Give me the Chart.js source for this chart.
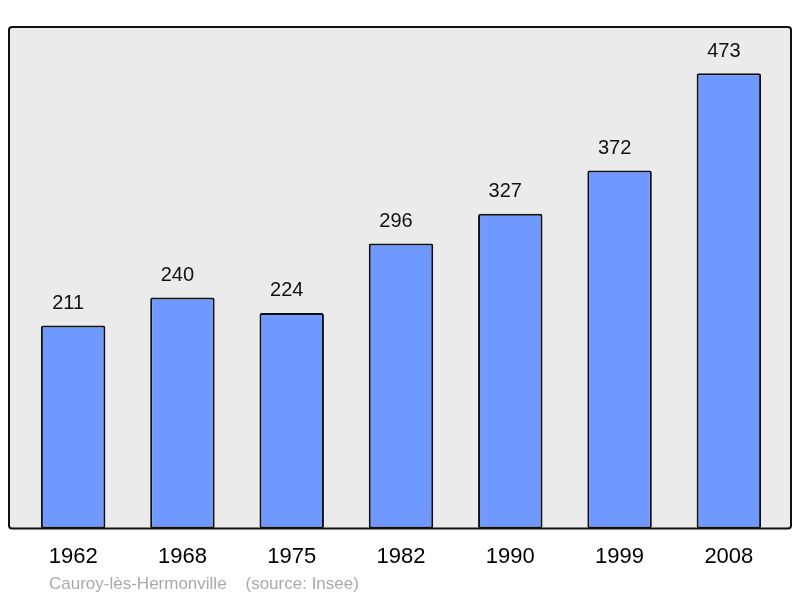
<!DOCTYPE html>
<html>
<head>
<meta charset="utf-8">
<script src="https://cdn.jsdelivr.net/npm/chart.js@4/dist/chart.umd.min.js"></script>
<style>
html,body{margin:0;padding:0;background:#fff;}
#wrap{width:800px;height:598px;position:relative;}
</style>
</head>
<body>
<div id="wrap"><canvas id="c" width="800" height="598"></canvas></div>
<script>
const years = ["1962","1968","1975","1982","1990","1999","2008"];
const population = [211,240,224,296,327,372,473];
const sourceText = "Cauroy-lès-Hermonville    (source: Insee)";

const FONT = "'Liberation Sans', Arial, sans-serif";

const framePlugin = {
  id: 'frame',
  beforeDraw(chart) {
    const {ctx, chartArea} = chart;
    const l = chartArea.left - 9.5, r = chartArea.right + 7.5;
    const t = chartArea.top, b = chartArea.bottom;
    ctx.save();
    ctx.beginPath();
    if (ctx.roundRect) ctx.roundRect(l, t, r - l, b - t, 3); else ctx.rect(l, t, r - l, b - t);
    ctx.fillStyle = '#ebebeb';
    ctx.fill();
    ctx.restore();
  },
  afterDatasetsDraw(chart) {
    const {ctx, chartArea} = chart;
    const l = chartArea.left - 9.5, r = chartArea.right + 7.5;
    const t = chartArea.top, b = chartArea.bottom;
    ctx.save();
    ctx.beginPath();
    if (ctx.roundRect) ctx.roundRect(l, t, r - l, b - t, 3); else ctx.rect(l, t, r - l, b - t);
    ctx.lineWidth = 2;
    ctx.strokeStyle = '#111';
    ctx.stroke();
    // value labels
    const meta = chart.getDatasetMeta(0);
    ctx.fillStyle = '#111';
    ctx.font = '20px ' + FONT;
    ctx.textAlign = 'center';
    ctx.textBaseline = 'middle';
    meta.data.forEach((bar, i) => {
      ctx.fillText(String(chart.data.datasets[0].data[i]), bar.x - 5, bar.y - 22);
    });
    // source
    ctx.fillStyle = '#aaaaaa';
    ctx.font = '17px ' + FONT;
    ctx.textAlign = 'left';
    ctx.fillText(sourceText, 49, 584);
    ctx.restore();
  }
};

new Chart(document.getElementById('c'), {
  type: 'bar',
  data: {
    labels: years,
    datasets: [{
      data: population,
      backgroundColor: '#7099ff',
      borderColor: '#111',
      borderWidth: 2,
      borderRadius: 2,
      borderSkipped: false,
      barPercentage: 0.59,
      categoryPercentage: 1.0
    }]
  },
  options: {
    responsive: false,
    animation: false,
    devicePixelRatio: 1,
    layout: { padding: { left: 18.5, right: 16.5, top: 27, bottom: 13 } },
    plugins: { legend: { display: false }, tooltip: { enabled: false } },
    scales: {
      x: {
        grid: { display: false, drawTicks: false, tickLength: 0 },
        border: { display: false },
        ticks: { color: '#000', font: { size: 22, family: FONT }, padding: 15, maxRotation: 0 }
      },
      y: {
        display: false,
        min: 0,
        max: 521
      }
    }
  },
  plugins: [framePlugin]
});
</script>
</body>
</html>
